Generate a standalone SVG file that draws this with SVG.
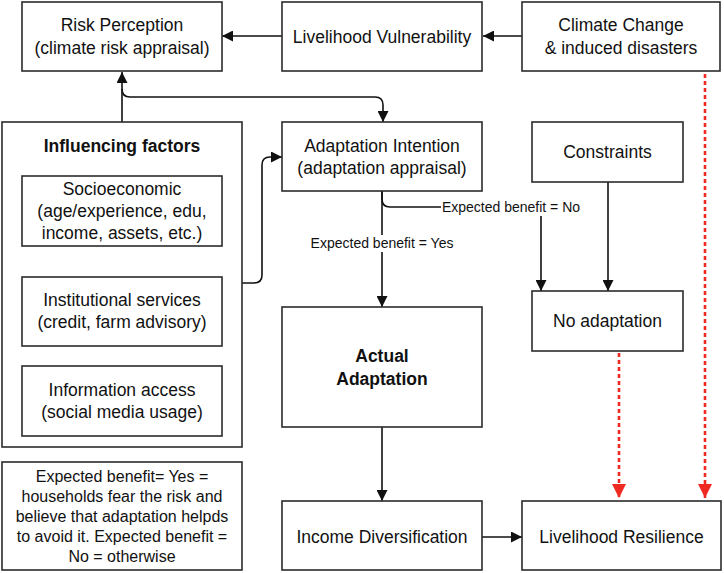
<svg xmlns="http://www.w3.org/2000/svg" width="724" height="573" viewBox="0 0 724 573">
<style>
.box{fill:#fff;stroke:#2b2b2b;stroke-width:1.6}
.t{font-family:"Liberation Sans",Arial,sans-serif;font-size:17.5px;fill:#111;text-anchor:middle}
.b{font-weight:bold}
.n{font-family:"Liberation Sans",Arial,sans-serif;font-size:16px;fill:#111;text-anchor:middle}
.lbl{font-family:"Liberation Sans",Arial,sans-serif;font-size:14px;fill:#111;text-anchor:middle}
.c{fill:none;stroke:#111;stroke-width:1.6}
.r{fill:none;stroke:#ee2a22;stroke-width:2.6;stroke-dasharray:4 3}
</style>
<defs>
<marker id="ah" markerUnits="userSpaceOnUse" markerWidth="11" markerHeight="11" refX="11" refY="5.5" orient="auto">
<path d="M0,0 L11,5.5 L0,11 z" fill="#111"/>
</marker>
<marker id="rh" markerUnits="userSpaceOnUse" markerWidth="14" markerHeight="14" refX="14" refY="7" orient="auto">
<path d="M0,0 L14,7 L0,14 z" fill="#ee2a22"/>
</marker>
</defs>
<rect width="724" height="573" fill="#fff"/>

<g id="connectors">
<path class="c" d="M522,36 L483,36" marker-end="url(#ah)"/>
<path class="c" d="M282,36 L222,36" marker-end="url(#ah)"/>
<path class="c" d="M122,122 L122,72" marker-end="url(#ah)"/>
<path class="c" d="M122,89 Q122,97 130,97 L375,97 Q383,97 383,105 L383,122" marker-end="url(#ah)"/>
<path class="c" d="M242,283 L254,283 Q262,283 262,275 L262,165 Q262,157 270,157 L282,157" marker-end="url(#ah)"/>
<path class="c" d="M382,191 L382,307" marker-end="url(#ah)"/>
<path class="c" d="M382,191 L382,199 Q382,207 390,207 L533,207 Q541,207 541,215 L541,291" marker-end="url(#ah)"/>
<path class="c" d="M608,182 L608,291" marker-end="url(#ah)"/>
<path class="c" d="M382,427 L382,501" marker-end="url(#ah)"/>
<path class="c" d="M482,537 L522,537" marker-end="url(#ah)"/>
<path class="r" d="M619,353 L619,498" marker-end="url(#rh)"/>
<path class="r" d="M705,74 L705,498" marker-end="url(#rh)"/>
<rect x="310" y="235" width="144" height="17" fill="#fff"/>
<text class="lbl" x="382" y="248">Expected benefit = Yes</text>
<rect x="441" y="199" width="141" height="17" fill="#fff"/>
<text class="lbl" x="511" y="212">Expected benefit = No</text>
</g>

<g id="risk-perception">
<rect class="box" x="22" y="2" width="200" height="69"/>
<text class="t" x="122" y="31">Risk Perception</text>
<text class="t" x="122" y="54">(climate risk appraisal)</text>
</g>
<g id="livelihood-vulnerability">
<rect class="box" x="282" y="2" width="200" height="69"/>
<text class="t" x="382" y="43">Livelihood Vulnerability</text>
</g>
<g id="climate-change">
<rect class="box" x="522" y="2" width="198" height="69"/>
<text class="t" x="621" y="31">Climate Change</text>
<text class="t" x="621" y="54">&amp; induced disasters</text>
</g>

<g id="influencing-factors">
<rect class="box" x="2" y="122" width="240" height="325"/>
<text class="t b" x="122" y="152">Influencing factors</text>
<g id="socioeconomic">
<rect class="box" x="22" y="176" width="200" height="70"/>
<text class="t" x="122" y="195">Socioeconomic</text>
<text class="t" x="122" y="217">(age/experience, edu,</text>
<text class="t" x="122" y="239">income, assets, etc.)</text>
</g>
<g id="institutional-services">
<rect class="box" x="22" y="277" width="200" height="69"/>
<text class="t" x="122" y="306">Institutional services</text>
<text class="t" x="122" y="328">(credit, farm advisory)</text>
</g>
<g id="information-access">
<rect class="box" x="22" y="366" width="200" height="70"/>
<text class="t" x="122" y="396">Information access</text>
<text class="t" x="122" y="418">(social media usage)</text>
</g>
</g>

<g id="adaptation-intention">
<rect class="box" x="282" y="122" width="200" height="69"/>
<text class="t" x="382" y="152">Adaptation Intention</text>
<text class="t" x="382" y="174">(adaptation appraisal)</text>
</g>
<g id="constraints">
<rect class="box" x="532" y="122" width="151" height="60"/>
<text class="t" x="607.500" y="158">Constraints</text>
</g>
<g id="no-adaptation">
<rect class="box" x="532" y="291" width="151" height="60"/>
<text class="t" x="607.500" y="327">No adaptation</text>
</g>
<g id="actual-adaptation">
<rect class="box" x="282" y="307" width="200" height="120"/>
<text class="t b" x="382" y="362">Actual</text>
<text class="t b" x="382" y="385">Adaptation</text>
</g>
<g id="income-diversification">
<rect class="box" x="282" y="501" width="200" height="69"/>
<text class="t" x="382" y="543">Income Diversification</text>
</g>
<g id="livelihood-resilience">
<rect class="box" x="522" y="501" width="199" height="69"/>
<text class="t" x="621.500" y="543">Livelihood Resilience</text>
</g>
<g id="note">
<rect class="box" x="2" y="462" width="240" height="108"/>
<text class="n" x="122" y="482">Expected benefit= Yes =</text>
<text class="n" x="122" y="502">households fear the risk and</text>
<text class="n" x="122" y="522">believe that adaptation helpds</text>
<text class="n" x="122" y="542">to avoid it. Expected benefit =</text>
<text class="n" x="122" y="562">No = otherwise</text>
</g>
</svg>
